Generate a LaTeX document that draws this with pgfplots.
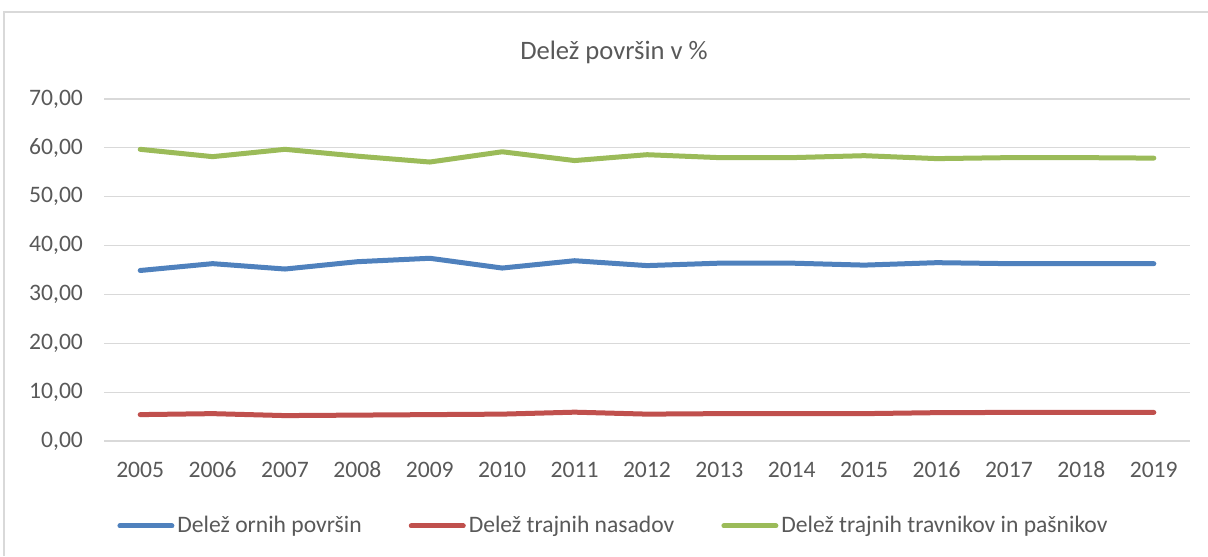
\documentclass[border=0pt]{standalone}
\usepackage{fontspec}
\setmainfont{Carlito}
\usepackage{pgfplots}
\pgfplotsset{compat=1.18}
\definecolor{serblue}{HTML}{4F81BD}
\definecolor{serred}{HTML}{C0504D}
\definecolor{sergreen}{HTML}{9BBB59}
\definecolor{gridgray}{HTML}{D9D9D9}
\definecolor{txtgray}{HTML}{595959}
\begin{document}
\begin{tikzpicture}
\useasboundingbox (0,0) rectangle (604pt,278pt);
% chart frame (cut at right and bottom)
\draw[gridgray, line width=0.6pt] (2pt,0pt) -- (2pt,272pt) -- (604pt,272pt);
\node[txtgray, font=\fontsize{13.3}{16}\selectfont] at (307pt,252pt) {Delež površin v \%};
\begin{axis}[
    at={(52pt,57.5pt)}, anchor=south west,
    scale only axis,
    width=543pt, height=171pt,
    xmin=2004.5, xmax=2019.5,
    ymin=0, ymax=70,
    xtick={2005,...,2019},
    ytick={0,10,...,70},
    axis line style={draw=none},
    major tick length=0pt,
    ymajorgrids,
    grid style={gridgray, line width=0.6pt},
    tick label style={txtgray, font=\fontsize{11.8}{14}\selectfont},
    /pgf/number format/assume math mode=true,
    xticklabel style={/pgf/number format/1000 sep={}, anchor=center, yshift=-14.5pt},
    yticklabel style={anchor=east, xshift=-7pt,
        /pgf/number format/fixed, /pgf/number format/fixed zerofill,
        /pgf/number format/precision=2, /pgf/number format/use comma},
    legend columns=3,
    legend style={at={(0.012,-0.2485)}, anchor=west, draw=none, inner sep=0pt,
        font=\fontsize{11.8}{14}\selectfont, text=txtgray,
        /tikz/every even column/.append style={column sep=22pt},
        nodes={inner xsep=1.5pt}},
    legend image code/.code={\draw[#1, line width=2.5pt, line cap=round] (0pt,0pt) -- (26pt,0pt);},
    every axis plot/.append style={line width=2.5pt, line join=round, line cap=round},
]
\addplot[serblue] coordinates {
(2005,34.9) (2006,36.3) (2007,35.2) (2008,36.7) (2009,37.4) (2010,35.4) (2011,36.9) (2012,35.9)
(2013,36.4) (2014,36.4) (2015,36.0) (2016,36.5) (2017,36.3) (2018,36.3) (2019,36.3)};
\addlegendentry{Delež ornih površin}
\addplot[serred] coordinates {
(2005,5.4) (2006,5.6) (2007,5.2) (2008,5.3) (2009,5.4) (2010,5.5) (2011,5.9) (2012,5.5)
(2013,5.6) (2014,5.6) (2015,5.6) (2016,5.8) (2017,5.85) (2018,5.85) (2019,5.85)};
\addlegendentry{Delež trajnih nasadov}
\addplot[sergreen] coordinates {
(2005,59.7) (2006,58.2) (2007,59.7) (2008,58.3) (2009,57.1) (2010,59.2) (2011,57.4) (2012,58.6)
(2013,58.0) (2014,58.0) (2015,58.4) (2016,57.8) (2017,58.0) (2018,58.0) (2019,57.9)};
\addlegendentry{Delež trajnih travnikov in pašnikov}
\end{axis}
\end{tikzpicture}
\end{document}
